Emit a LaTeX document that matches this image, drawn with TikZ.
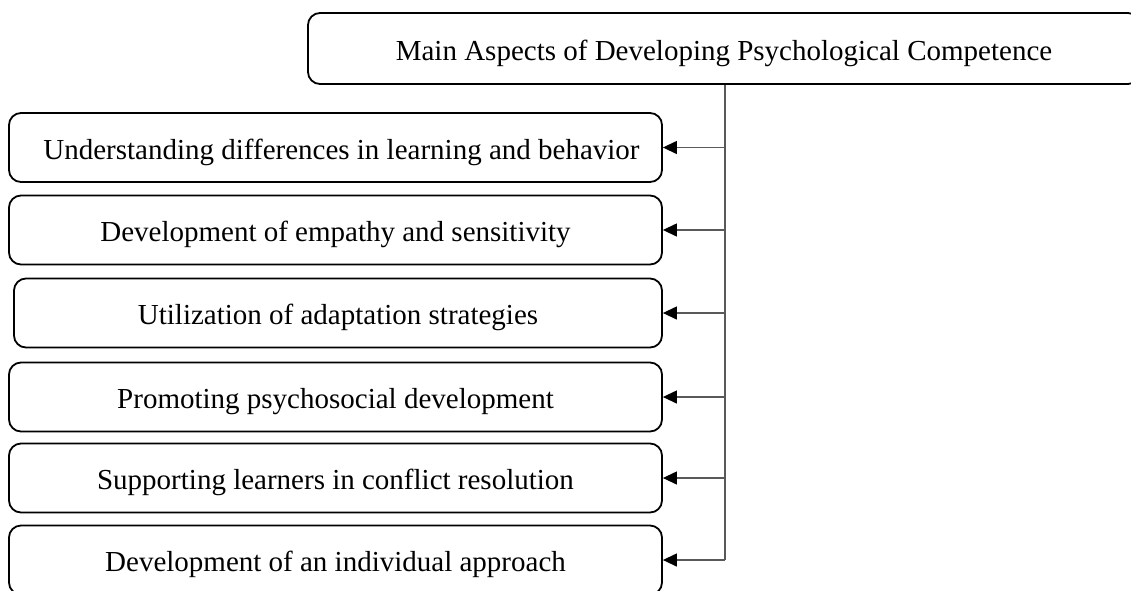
\documentclass[tikz,border=0pt]{standalone}
\usepackage{fontspec}
\setmainfont{Liberation Serif}
\usetikzlibrary{arrows.meta}
\begin{document}
\begin{tikzpicture}[x=1pt,y=-1pt,
  box/.style={draw=black, line width=1.8pt, rounded corners=12pt, inner sep=0pt,
    font=\fontsize{29}{35}\selectfont, align=center, minimum height=69pt,
    text height=25pt, text depth=2pt},
  link/.style={draw=black!65, line width=1.3pt},
  arr/.style={link, -{Triangle[length=14pt,width=13pt,black]}}]
\clip (0,0) rectangle (1131,590);
\useasboundingbox (0,0) rectangle (1131,590);
\node[box, minimum width=832pt, minimum height=71pt] (top) at (724,48.5)
  {Main Aspects of Developing Psychological Competence};
\node[box, minimum width=653pt] (b1) at (335.5,147.5) {\hspace*{12pt}Understanding differences in learning and behavior};
\node[box, minimum width=653pt] (b2) at (335.5,230) {Development of empathy and sensitivity};
\node[box, minimum width=648pt] (b3) at (338,313) {Utilization of adaptation strategies};
\node[box, minimum width=653pt] (b4) at (335.5,397) {Promoting psychosocial development};
\node[box, minimum width=653pt] (b5) at (335.5,478) {Supporting learners in conflict resolution};
\node[box, minimum width=653pt] (b6) at (335.5,560) {Development of an individual approach};
\coordinate (s) at (725,0);
\draw[link] (s |- top.south) -- (s |- b6.east);
\foreach \b in {b1,b2,b3,b4,b5,b6}
  \draw[arr] (s |- \b.east) -- (\b.east);
\end{tikzpicture}
\end{document}
